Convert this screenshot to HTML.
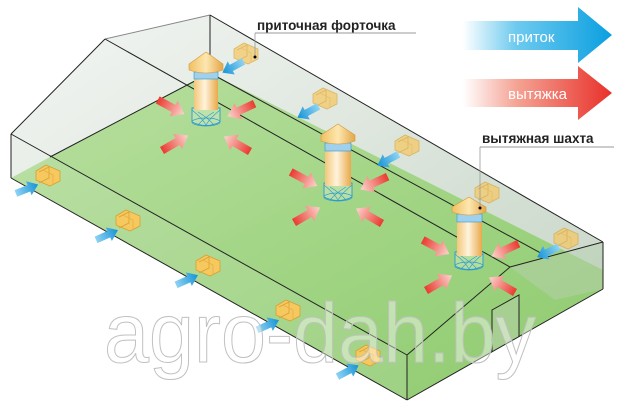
<!DOCTYPE html>
<html><head><meta charset="utf-8"><style>
html,body{margin:0;padding:0;background:#fff;}
svg{display:block;}
text{font-family:"Liberation Sans","DejaVu Sans",sans-serif;}
</style></head><body>
<svg width="640" height="408" viewBox="0 0 640 408" xmlns="http://www.w3.org/2000/svg">
<defs>
<linearGradient id="gBlue" x1="0" x2="1" y1="0" y2="0"><stop offset="0" stop-color="#fff"/><stop offset="0.35" stop-color="#6fcbef"/><stop offset="1" stop-color="#0b9fe0"/></linearGradient>
<linearGradient id="gRed" x1="0" x2="1" y1="0" y2="0"><stop offset="0" stop-color="#fff"/><stop offset="0.35" stop-color="#f5a596"/><stop offset="1" stop-color="#e8302a"/></linearGradient>
<linearGradient id="gFloor" x1="0" x2="1" y1="0" y2="1"><stop offset="0" stop-color="#b9e0a2"/><stop offset="0.5" stop-color="#a2d585"/><stop offset="1" stop-color="#8fcb70"/></linearGradient>
<linearGradient id="gWall" x1="0" x2="1" y1="0" y2="1"><stop offset="0" stop-color="#f4f6f4"/><stop offset="1" stop-color="#c3d3c3"/></linearGradient>
<linearGradient id="gBody" x1="0" x2="1"><stop offset="0" stop-color="#f3c77a"/><stop offset="0.45" stop-color="#fff3dc"/><stop offset="1" stop-color="#e9a94a"/></linearGradient>
<linearGradient id="gCap" x1="0" x2="1"><stop offset="0" stop-color="#f0c060"/><stop offset="0.5" stop-color="#fde7b0"/><stop offset="1" stop-color="#e4a648"/></linearGradient>
<linearGradient id="gArR" x1="0" x2="1"><stop offset="0" stop-color="#ea3a30"/><stop offset="1" stop-color="#fbd6cf"/></linearGradient>
<linearGradient id="gArB" x1="0" x2="1"><stop offset="0" stop-color="#8fd3f3"/><stop offset="1" stop-color="#1592d6"/></linearGradient>
<g id="arR"><polygon points="-15,-4 3,-4 3,-9 15,0 3,9 3,4 -15,4" fill="url(#gArR)"/></g>
<g id="arB"><polygon points="-12,-3.5 2,-3.5 2,-7.5 12,0 2,7.5 2,3.5 -12,3.5" fill="url(#gArB)"/></g>
<g id="vent"><polygon points="0,6 10,0 24,6 24,16 14,21 0,15" fill="#f6c860" stroke="#d8a030" stroke-width="0.8"/><polyline points="3,7 13,2 13,13 3,18" fill="none" stroke="#d8a030" stroke-width="0.8"/><polyline points="7,5 17,10 17,20" fill="none" stroke="#e8b040" stroke-width="0.8"/></g>
<g id="shaftB"><path d="M-14,0 L-14,14 Q0,21 14,14 L14,0 Z" fill="#cfe9c0" fill-opacity="0.5" stroke="#2a9ad0" stroke-width="0.9"/><ellipse cx="0" cy="14" rx="14" ry="4" fill="none" stroke="#2a9ad0" stroke-width="0.7"/><path d="M-14,2 Q-4,10 0,17 M14,2 Q4,10 0,17 M-8,4 Q2,10 8,17 M8,4 Q-2,10 -8,17" stroke="#2a9ad0" stroke-width="0.6" fill="none"/></g>
</defs>

<polygon points="11,134 105,39 210,15 603,242 603,289 407,400 11,178" fill="url(#gWall)"/>
<polygon points="11,178 50,157 210,73 603,270 603,289 407,400" fill="url(#gFloor)"/>
<polygon points="510,267 603,242 603,289 555,300" fill="#b7cfb0" opacity="0.5"/>
<polygon points="11,134 407,355 407,400 11,178" fill="#e8f0e4" opacity="0.12"/>
<polygon points="492,310 519,295 519,337 492,352" fill="#a7cf92"/>

<g stroke="#222" stroke-width="1" fill="none">
<line x1="11" y1="134" x2="105" y2="39"/>
<line x1="105" y1="39" x2="210" y2="15" stroke="#888"/>
<line x1="210" y1="15" x2="603" y2="242"/>
<line x1="210" y1="15" x2="210" y2="76"/>
<line x1="105" y1="39" x2="510" y2="267"/>
<line x1="11" y1="134" x2="407" y2="355"/>
<line x1="11" y1="134" x2="11" y2="178"/>
<line x1="11" y1="178" x2="407" y2="400"/>
<line x1="407" y1="355" x2="407" y2="400"/>
<line x1="407" y1="355" x2="510" y2="267"/>
<line x1="510" y1="267" x2="603" y2="242"/>
<line x1="603" y1="242" x2="603" y2="289"/>
<line x1="603" y1="289" x2="407" y2="400"/>
<line x1="50" y1="157" x2="210" y2="73"/>
<line x1="210" y1="73" x2="548" y2="257"/>
<polyline points="492,352 492,310 519,295 519,337"/>
</g>

<g opacity="0.7">
<use href="#vent" x="234" y="43"/>
<use href="#vent" x="313" y="88"/>
<use href="#vent" x="395" y="135"/>
<use href="#vent" x="475" y="182"/>
<use href="#vent" x="554" y="228"/>
</g>
<use href="#vent" x="36" y="165"/>
<use href="#vent" x="116" y="210"/>
<use href="#vent" x="196" y="255"/>
<use href="#vent" x="276" y="300"/>
<use href="#vent" x="356" y="345"/>

<use href="#arB" transform="translate(27,189) rotate(-22)"/>
<use href="#arB" transform="translate(107,235) rotate(-24)"/>
<use href="#arB" transform="translate(187,280) rotate(-24)"/>
<use href="#arB" transform="translate(268,325) rotate(-24)"/>
<use href="#arB" transform="translate(348,371) rotate(-28)"/>
<use href="#arB" transform="translate(233,67) rotate(152)"/>
<use href="#arB" transform="translate(308,112) rotate(152)"/>
<use href="#arB" transform="translate(388,160) rotate(152)"/>
<use href="#arB" transform="translate(548,252) rotate(155)"/>

<g>
<use href="#shaftB" transform="translate(206,108)"/>
<rect x="194" y="78" width="24" height="32" fill="url(#gBody)"/>
<rect x="194" y="72" width="24" height="7" fill="#9fd0ee" stroke="#2a9ad0" stroke-width="0.6"/>
<path d="M189,70 L189,64 L206,52 L223,64 L223,70 Q206,76 189,70 Z" fill="url(#gCap)" stroke="#d49a3a" stroke-width="0.6"/>
</g>
<g>
<use href="#shaftB" transform="translate(338,183)"/>
<rect x="325" y="150" width="26" height="36" fill="url(#gBody)"/>
<rect x="325" y="143" width="26" height="8" fill="#9fd0ee" stroke="#2a9ad0" stroke-width="0.6"/>
<path d="M321,141 L321,135 L338,124 L355,135 L355,141 Q338,147 321,141 Z" fill="url(#gCap)" stroke="#d49a3a" stroke-width="0.6"/>
</g>
<g>
<use href="#shaftB" transform="translate(469,252)"/>
<rect x="457" y="221" width="25" height="35" fill="url(#gBody)"/>
<rect x="457" y="214" width="25" height="8" fill="#9fd0ee" stroke="#2a9ad0" stroke-width="0.6"/>
<path d="M452,212 L452,207 L469,197 L486,207 L486,212 Q469,218 452,212 Z" fill="url(#gCap)" stroke="#d49a3a" stroke-width="0.6"/>
</g>

<g>
<use href="#arR" transform="translate(171,107) rotate(28)"/>
<use href="#arR" transform="translate(241,110) rotate(155)"/>
<use href="#arR" transform="translate(175,143) rotate(-30)"/>
<use href="#arR" transform="translate(237,144) rotate(-150)"/>
<use href="#arR" transform="translate(304,179) rotate(28)"/>
<use href="#arR" transform="translate(374,183) rotate(155)"/>
<use href="#arR" transform="translate(307,215) rotate(-30)"/>
<use href="#arR" transform="translate(369,216) rotate(-150)"/>
<use href="#arR" transform="translate(436,247) rotate(28)"/>
<use href="#arR" transform="translate(505,250) rotate(155)"/>
<use href="#arR" transform="translate(439,283) rotate(-30)"/>
<use href="#arR" transform="translate(502,285) rotate(-150)"/>
</g>

<text x="257" y="30" font-size="13.5" font-weight="bold" fill="#222">приточная форточка</text>
<line x1="255" y1="33" x2="416" y2="33" stroke="#999" stroke-width="1"/>
<line x1="255" y1="33" x2="255" y2="57" stroke="#999" stroke-width="0.8"/>
<circle cx="255" cy="57" r="1.5" fill="#000"/>
<text x="482" y="143" font-size="13.5" font-weight="bold" fill="#222">вытяжная шахта</text>
<line x1="480" y1="147" x2="614" y2="147" stroke="#999" stroke-width="1"/>
<line x1="480" y1="147" x2="480" y2="208" stroke="#999" stroke-width="0.8"/>
<circle cx="480" cy="208" r="1.5" fill="#000"/>

<polygon points="463,21 578,21 578,7 612,35 578,63 578,50 463,50" fill="url(#gBlue)"/>
<text x="508" y="42" font-size="15" fill="#fff">приток</text>
<polygon points="463,79 578,79 578,66 612,93 578,120 578,107 463,107" fill="url(#gRed)"/>
<text x="508" y="99" font-size="15" fill="#fff">вытяжка</text>

<text x="104" y="362" font-size="84" fill="#ffffff" fill-opacity="0.4" stroke="#c0c0c0" stroke-width="1" textLength="432" lengthAdjust="spacingAndGlyphs">agro-dah.by</text>
</svg>
</body></html>
